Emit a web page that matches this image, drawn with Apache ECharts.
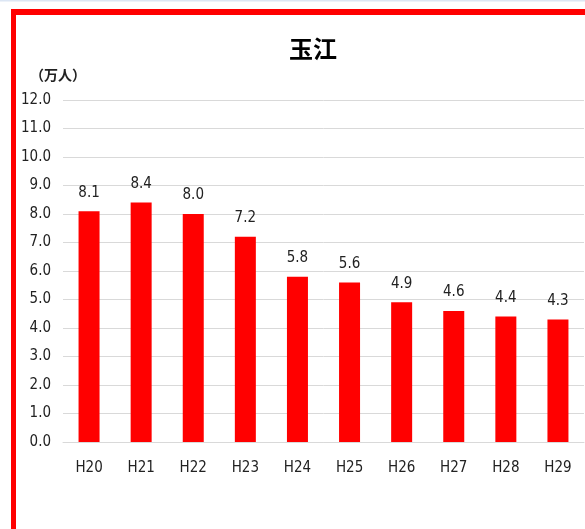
<!DOCTYPE html>
<html><head><meta charset="utf-8">
<script src="https://cdn.jsdelivr.net/npm/echarts@6/dist/echarts.min.js"></script>
<style>html,body{margin:0;padding:0;background:#fff}#c{width:585px;height:529px}</style>
</head><body><div id="c"></div>
<script>
var categories = ['H20','H21','H22','H23','H24','H25','H26','H27','H28','H29'];
var values = [8.1, 8.4, 8.0, 7.2, 5.8, 5.6, 4.9, 4.6, 4.4, 4.3];
var yTicks = [0,1,2,3,4,5,6,7,8,9,10,11,12];
var chart = echarts.init(document.getElementById('c'));
var narrow = '"Liberation Sans Narrow","DejaVu Sans Condensed",sans-serif';
chart.setOption({
  animation: false,
  backgroundColor: '#fff',
  title: {
    text: '玉江', left: 308, top: 32, textAlign: 'center',
    textStyle: {fontFamily: '"Noto Sans CJK JP",sans-serif', fontSize: 24, fontWeight: 'bold', color: '#000'}
  },
  graphic: [
    {type: 'rect', shape: {x: 0, y: 0, width: 585, height: 1.5}, style: {fill: '#dce6f4'}},
    {type: 'rect', shape: {x: 11, y: 9, width: 574, height: 6}, style: {fill: '#ff0000'}},
    {type: 'rect', shape: {x: 11, y: 9, width: 5, height: 520}, style: {fill: '#ff0000'}},
    {type: 'text', left: 30, top: 68, style: {text: '（万人）', font: 'bold 14px "Noto Sans CJK JP",sans-serif', fill: '#222'}}
  ],
  grid: {left: 63, right: 1, top: 100, bottom: 87, containLabel: false},
  xAxis: {
    type: 'category', data: categories,
    axisLine: {show: true, lineStyle: {color: '#d9d9d9'}},
    axisTick: {show: false},
    axisLabel: {margin: 19, color: '#222', fontSize: 15, fontFamily: narrow}
  },
  yAxis: {
    type: 'value', min: 0, max: 12, interval: 1,
    axisLine: {show: false}, axisTick: {show: false},
    axisLabel: {margin: 12, color: '#222', fontSize: 15, fontFamily: narrow,
      formatter: function(v){ return yTicks.indexOf(v) >= 0 ? v.toFixed(1) : ''; }},
    splitLine: {lineStyle: {color: '#d9d9d9'}}
  },
  series: [{
    type: 'bar', data: values, barWidth: 21,
    itemStyle: {color: '#ff0000'},
    label: {show: true, position: 'top', distance: 11, color: '#222', fontSize: 15, fontFamily: narrow,
      formatter: function(p){ return p.value.toFixed(1); }}
  }]
});
</script></body></html>
